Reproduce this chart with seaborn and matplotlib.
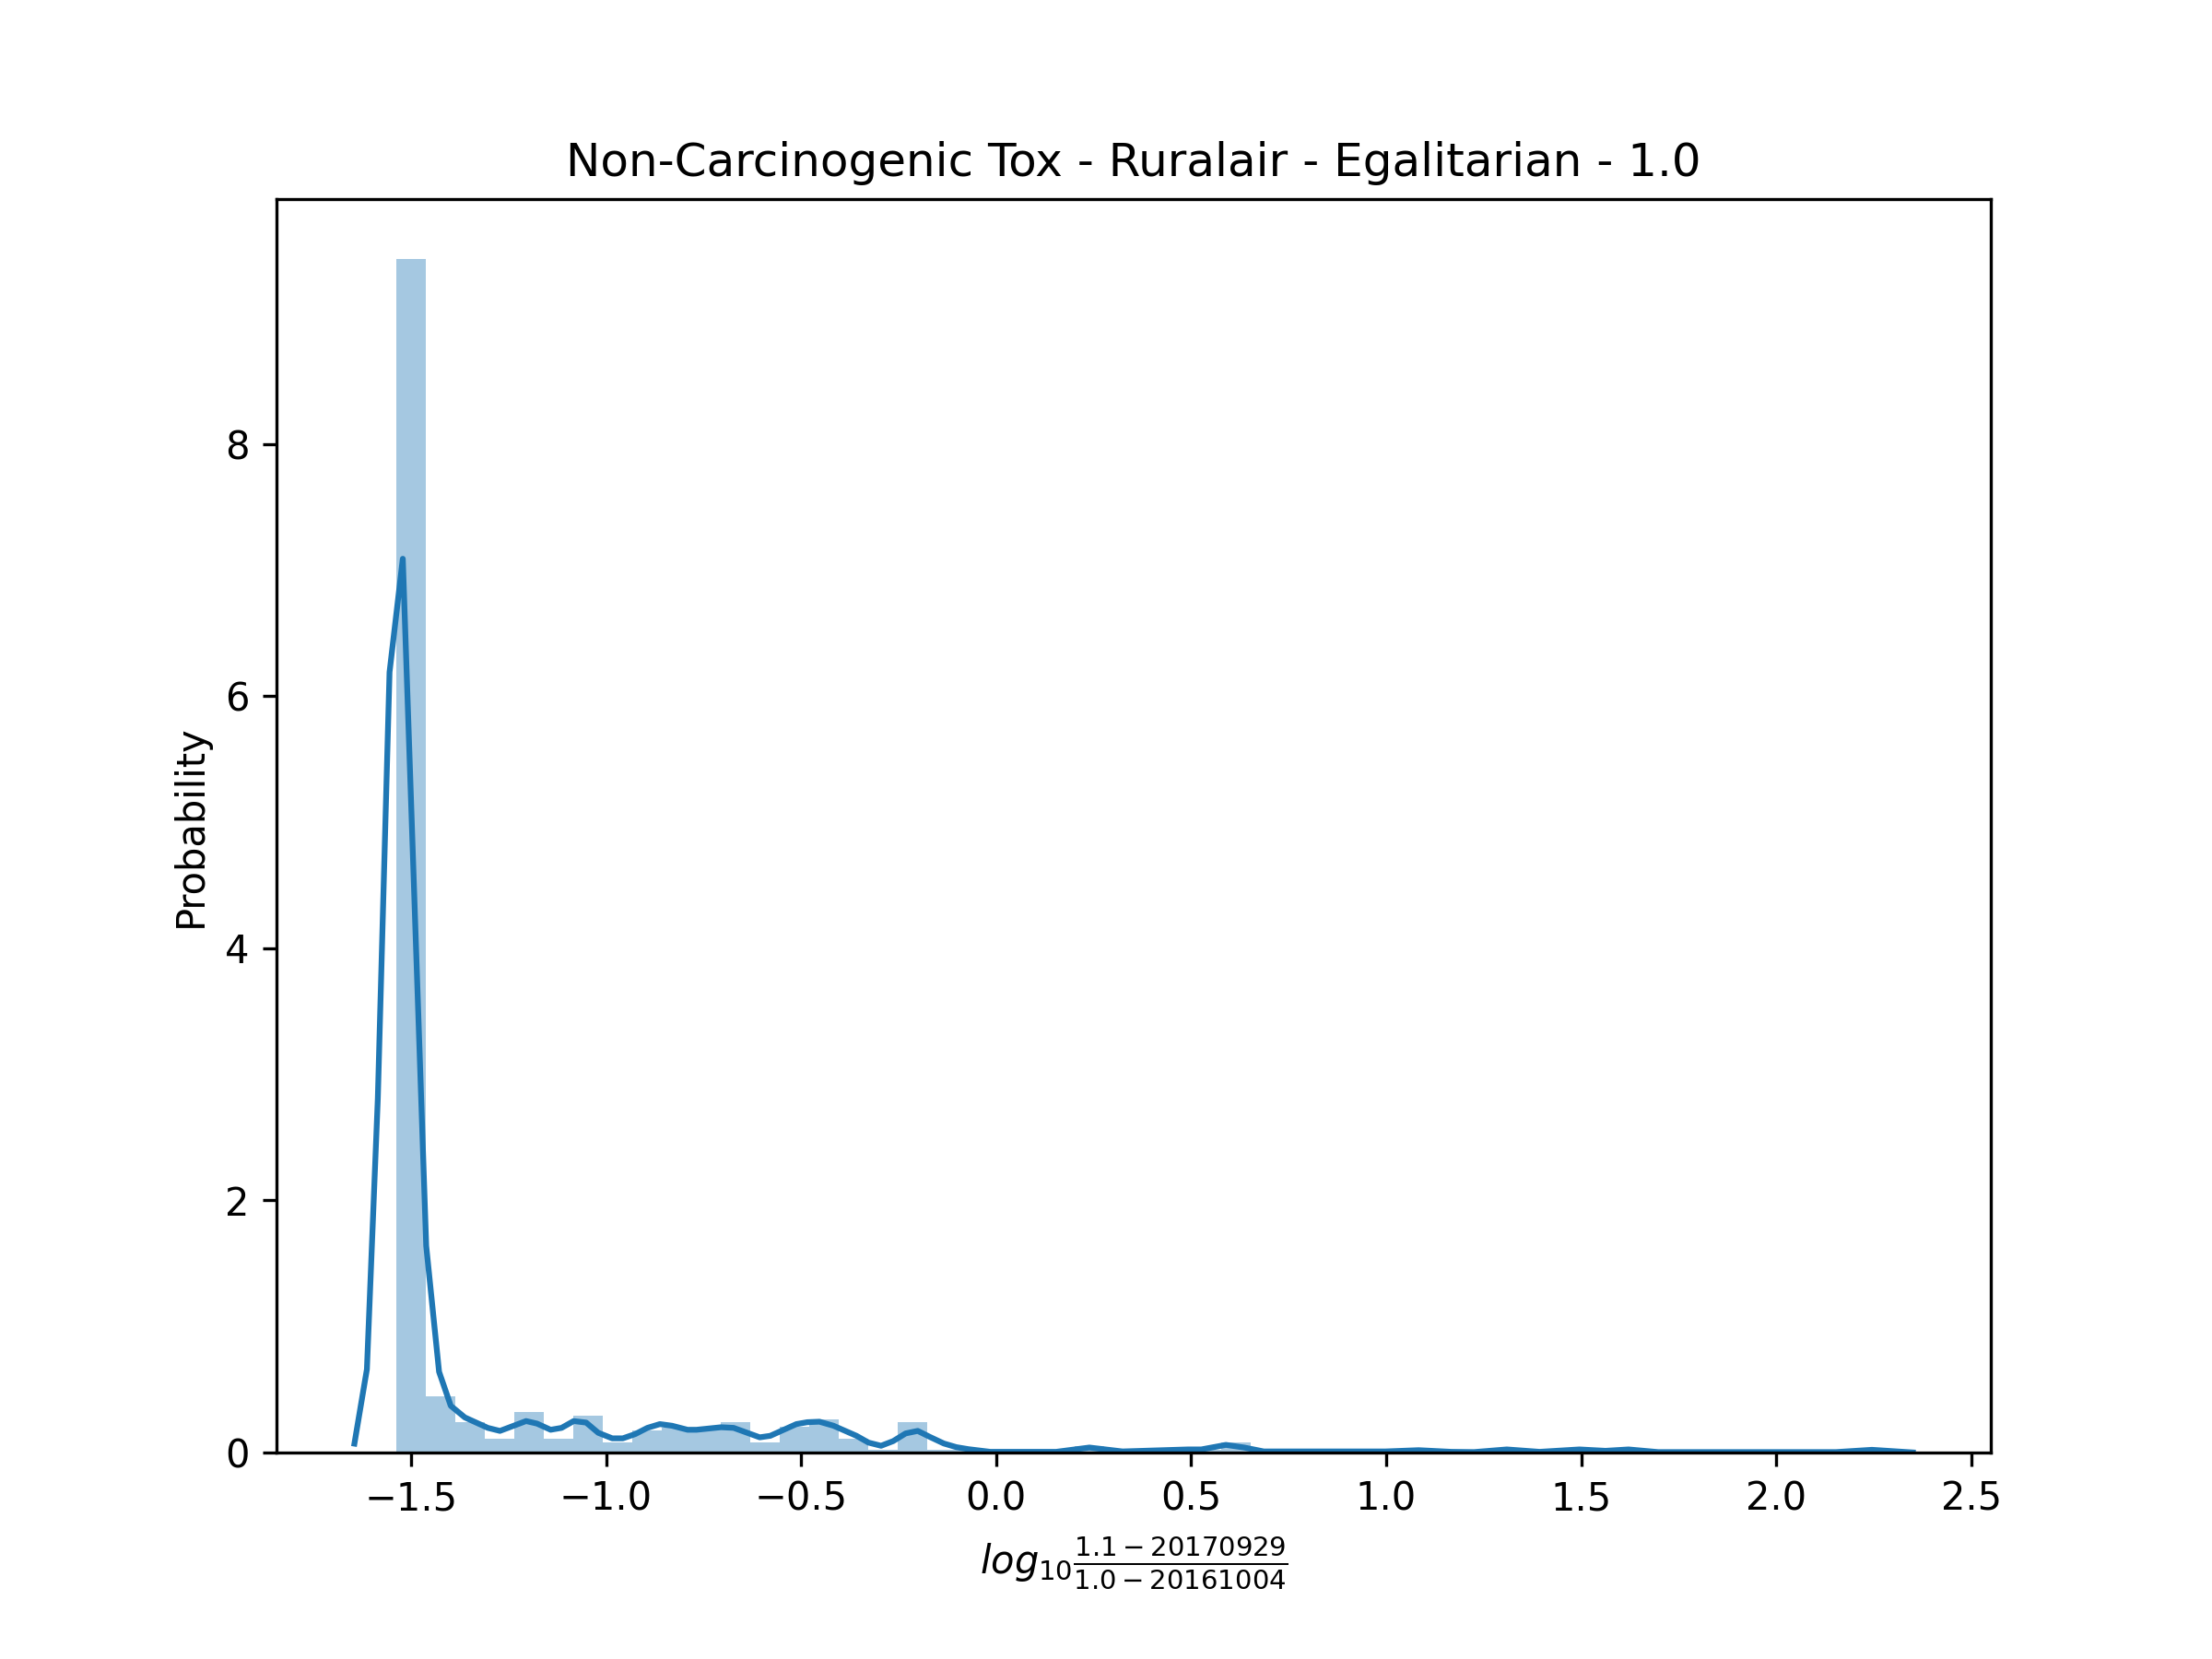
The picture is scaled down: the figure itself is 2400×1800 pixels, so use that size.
import numpy as np
import pandas as pd
import matplotlib
matplotlib.use("Agg")
import matplotlib.pyplot as plt
import seaborn as sns

# histogram: 50 equal bins, density heights
bin_low = -1.537
bin_high = 2.240
bin_heights = [
    9.47, 0.444, 0.24, 0.112, 0.322, 0.112, 0.293, 0.083, 0.176, 0.20,
    0.20, 0.237, 0.083, 0.205, 0.264, 0.112, 0.024, 0.237, 0.024, 0.024,
    0.0, 0.0, 0.0, 0.05, 0.0, 0.0, 0.024, 0.024, 0.08, 0.0,
    0.0, 0.0, 0.0, 0.0, 0.024, 0.0, 0.0, 0.024, 0.0, 0.024,
    0.024, 0.024, 0.0, 0.0, 0.0, 0.0, 0.0, 0.0, 0.0, 0.024,
]

# kde curve points
kde_x = [
    -1.645, -1.613, -1.585, -1.555, -1.521, -1.461, -1.428, -1.398, -1.362, -1.303,
    -1.272, -1.205, -1.177, -1.142, -1.114, -1.083, -1.051, -1.020, -0.984, -0.957,
    -0.925, -0.894, -0.862, -0.831, -0.791, -0.768, -0.705, -0.673, -0.606, -0.579,
    -0.512, -0.484, -0.453, -0.417, -0.358, -0.327, -0.295, -0.264, -0.232, -0.201,
    -0.169, -0.134, -0.102, -0.071, -0.015, 0.154, 0.239, 0.324, 0.492, 0.526,
    0.589, 0.636, 0.686, 0.998, 1.083, 1.167, 1.225, 1.309, 1.393, 1.495,
    1.562, 1.621, 1.697, 2.153, 2.245, 2.350,
]
kde_y = [
    0.07, 0.66, 2.81, 6.19, 7.09, 1.64, 0.64, 0.37, 0.278, 0.195,
    0.171, 0.249, 0.229, 0.18, 0.195, 0.249, 0.237, 0.156, 0.112, 0.112,
    0.146, 0.195, 0.225, 0.212, 0.18, 0.18, 0.2, 0.195, 0.12, 0.132,
    0.225, 0.24, 0.244, 0.212, 0.132, 0.078, 0.053, 0.09, 0.151, 0.171,
    0.122, 0.071, 0.042, 0.026, 0.005, 0.005, 0.039, 0.008, 0.024, 0.024,
    0.06, 0.039, 0.008, 0.008, 0.018, 0.005, 0.003, 0.024, 0.005, 0.024,
    0.013, 0.024, 0.003, 0.003, 0.021, 0.0,
]

edges = np.linspace(bin_low, bin_high, len(bin_heights) + 1)
hist_df = pd.DataFrame({
    "x": (edges[:-1] + edges[1:]) / 2,
    "w": bin_heights,
})
kde_df = pd.DataFrame({"x": kde_x, "y": kde_y})

fig, ax = plt.subplots(figsize=(8, 6))
fig.subplots_adjust(left=0.125, right=0.9, top=0.88, bottom=0.1245)

sns.histplot(data=hist_df, x="x", weights="w", bins=list(edges), color="C0",
             alpha=0.4, linewidth=0, ax=ax)
sns.lineplot(data=kde_df, x="x", y="y", color="C0", linewidth=1.5, ax=ax)

ax.set_title("Non-Carcinogenic Tox - Ruralair - Egalitarian - 1.0")
ax.set_xlabel(r"$log_{10}\frac{1.1-20170929}{1.0-20161004}$")
ax.set_ylabel("Probability")

plt.savefig("out.png", dpi=300)
